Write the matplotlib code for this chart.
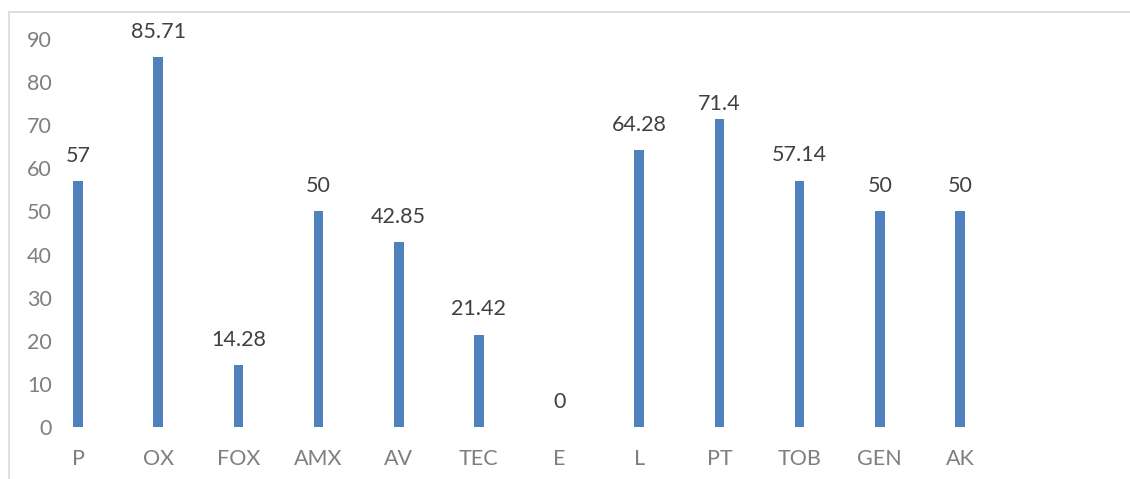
import matplotlib.pyplot as plt
from matplotlib.patches import Rectangle

# category names and values shown above each bar
categories = ['P', 'OX', 'FOX', 'AMX', 'AV', 'TEC', 'E', 'L', 'PT', 'TOB', 'GEN', 'AK']
values = [57, 85.71, 14.28, 50, 42.85, 21.42, 0, 64.28, 71.4, 57.14, 50, 50]
labels = ['57', '85.71', '14.28', '50', '42.85', '21.42', '0', '64.28', '71.4', '57.14', '50', '50']
yticks = list(range(0, 100, 10))

plt.rcParams['font.family'] = ['Lato', 'DejaVu Sans']

W, H = 1130, 479
fig = plt.figure(figsize=(W / 100, H / 100), dpi=100)

# plot area in pixels: x from 38 to 1000, y from 427 (zero) to 39 (90)
ax = fig.add_axes([38 / W, (H - 427) / H, 962 / W, 388 / H])

x = list(range(len(categories)))
ax.bar(x, values, width=0.12, color='#4F81BD')

for xi, v, t, name in zip(x, values, labels, categories):
    # the PT label sits closer to its bar
    off = 4 if name == 'PT' else 11
    ax.annotate(t, (xi, v), xytext=(0, off), textcoords='offset points',
                ha='center', va='bottom', fontsize=15.5, color='#404040')

ax.set_xlim(-0.5, len(categories) - 0.5)
ax.set_ylim(0, 90)
ax.set_xticks(x)
ax.set_xticklabels(categories)
ax.set_yticks(yticks)

ax.tick_params(axis='x', length=0, pad=16, labelsize=15.5, labelcolor='#7F7F7F')
ax.tick_params(axis='y', length=0, pad=-10, labelsize=15.5, labelcolor='#7F7F7F')

for s in ax.spines.values():
    s.set_visible(False)

# chart border (only left and top edges fall inside the image)
fig.patches.append(Rectangle((8.5 / W, -0.1), 1.2, 1.1 - 12.5 / H,
                             transform=fig.transFigure, fill=False,
                             edgecolor='#D9D9D9', linewidth=1.2))

fig.savefig('out.png', dpi=100)
